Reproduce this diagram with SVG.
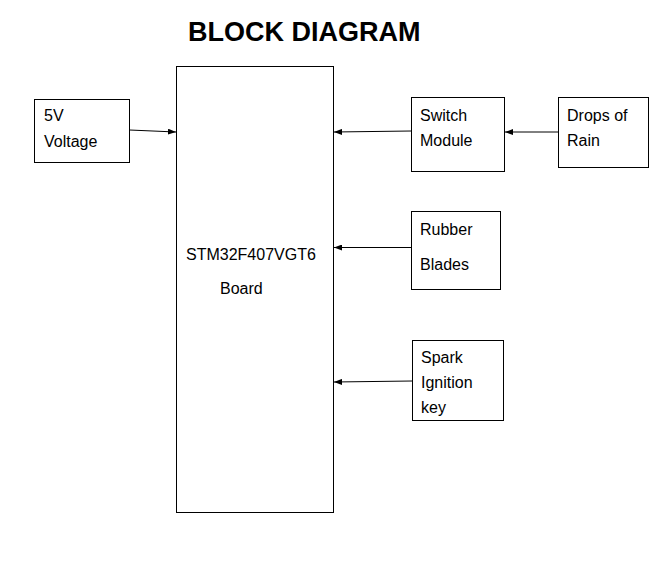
<svg xmlns="http://www.w3.org/2000/svg" width="661" height="561" viewBox="0 0 661 561">
<style>
.box{fill:#fff;stroke:#000;stroke-width:1}
.t{font-family:"Liberation Sans",Arial,sans-serif;font-size:16px;fill:#000}
.title{font-family:"Liberation Sans",Arial,sans-serif;font-size:27px;font-weight:bold;fill:#000}
.c{stroke:#000;stroke-width:1;fill:none;marker-end:url(#ah)}
</style>
<defs>
<marker id="ah" viewBox="0 0 8 6" refX="8" refY="3" markerWidth="8" markerHeight="6" markerUnits="userSpaceOnUse" orient="auto">
<path d="M0,0 L8,3 L0,6 z" fill="#000"/>
</marker>
</defs>
<rect width="661" height="561" fill="#fff"/>
<text class="title" x="188" y="41">BLOCK DIAGRAM</text>
<g id="board">
<rect class="box" x="176.5" y="66.5" width="157" height="446"/>
<text class="t" x="186" y="260">STM32F407VGT6</text>
<text class="t" x="220" y="294">Board</text>
</g>
<g id="voltage">
<rect class="box" x="34.5" y="99.5" width="95" height="63"/>
<text class="t" x="44" y="121">5V</text>
<text class="t" x="44" y="147">Voltage</text>
</g>
<g id="switch">
<rect class="box" x="411.5" y="97.5" width="93" height="74"/>
<text class="t" x="420" y="121">Switch</text>
<text class="t" x="420" y="146">Module</text>
</g>
<g id="rain">
<rect class="box" x="558.5" y="97.5" width="90" height="70"/>
<text class="t" x="567" y="121">Drops of</text>
<text class="t" x="567" y="146">Rain</text>
</g>
<g id="rubber">
<rect class="box" x="411.5" y="211.5" width="89" height="78"/>
<text class="t" x="420" y="235">Rubber</text>
<text class="t" x="420" y="270">Blades</text>
</g>
<g id="spark">
<rect class="box" x="412.5" y="340.5" width="91" height="80"/>
<text class="t" x="421" y="363">Spark</text>
<text class="t" x="421" y="388">Ignition</text>
<text class="t" x="421" y="413">key</text>
</g>
<g id="connectors">
<path class="c" d="M129.5,130 L176,132"/>
<path class="c" d="M411,131 L334,132"/>
<path class="c" d="M558,132 L505,132"/>
<path class="c" d="M411,247.5 L334,247.5"/>
<path class="c" d="M412,381 L334,382"/>
</g>
</svg>
